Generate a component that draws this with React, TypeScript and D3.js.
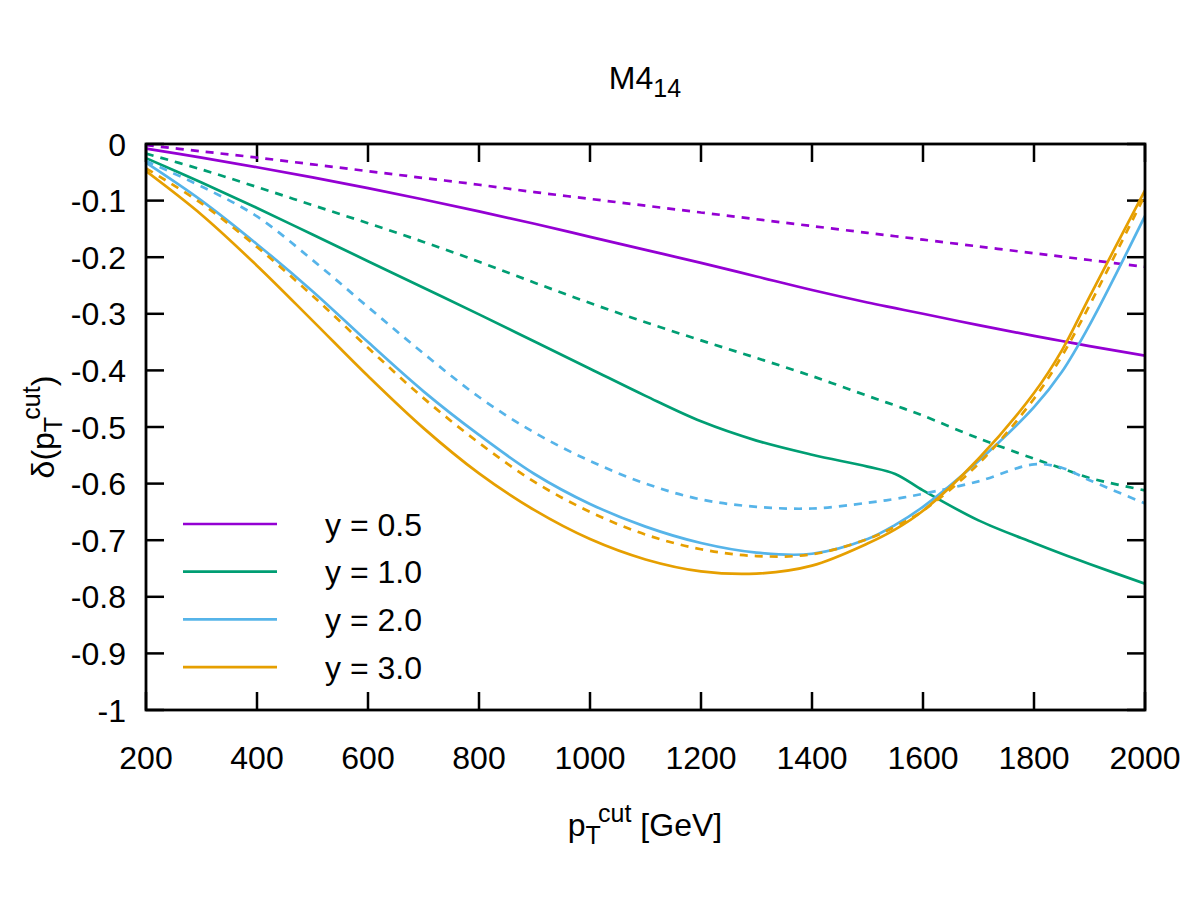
import React from 'react';
import * as d3 from 'd3';

const pT = [200, 300, 400, 500, 600, 700, 800, 900, 1000, 1100, 1200, 1300, 1400, 1500, 1550, 1600, 1700, 1800, 1850, 1900, 2000];

const y05Solid = [-0.008, -0.024, -0.041, -0.059, -0.078, -0.098, -0.119, -0.141, -0.164, -0.187, -0.21, -0.234, -0.258, -0.28, -0.29, -0.3, -0.32, -0.339, -0.348, -0.357, -0.374];
const y05Dashed = [-0.002, -0.013, -0.024, -0.036, -0.048, -0.06, -0.072, -0.085, -0.097, -0.109, -0.121, -0.133, -0.145, -0.157, -0.163, -0.169, -0.181, -0.193, -0.199, -0.205, -0.217];
const y10Solid = [-0.025, -0.068, -0.113, -0.16, -0.207, -0.254, -0.301, -0.349, -0.397, -0.445, -0.49, -0.524, -0.549, -0.57, -0.583, -0.612, -0.665, -0.705, -0.724, -0.742, -0.777];
const y10Dashed = [-0.017, -0.045, -0.076, -0.108, -0.14, -0.173, -0.208, -0.245, -0.281, -0.315, -0.347, -0.378, -0.41, -0.445, -0.462, -0.48, -0.52, -0.556, -0.573, -0.59, -0.612];
const y20Solid = [-0.033, -0.1, -0.177, -0.26, -0.35, -0.437, -0.514, -0.583, -0.636, -0.676, -0.705, -0.722, -0.724, -0.698, -0.673, -0.641, -0.56, -0.465, -0.403, -0.32, -0.127];
const y20Dashed = [-0.03, -0.075, -0.128, -0.205, -0.288, -0.37, -0.447, -0.51, -0.56, -0.6, -0.628, -0.641, -0.644, -0.634, -0.627, -0.618, -0.596, -0.566, -0.572, -0.594, -0.635];
const y30Solid = [-0.048, -0.125, -0.215, -0.312, -0.41, -0.502, -0.582, -0.647, -0.698, -0.734, -0.755, -0.759, -0.745, -0.706, -0.681, -0.648, -0.556, -0.44, -0.365, -0.27, -0.082];
const y30Dashed = [-0.043, -0.105, -0.182, -0.268, -0.36, -0.449, -0.528, -0.597, -0.65, -0.69, -0.716, -0.728, -0.725, -0.698, -0.676, -0.648, -0.565, -0.45, -0.375, -0.285, -0.09];

const legendLabels = ['y = 0.5', 'y = 1.0', 'y = 2.0', 'y = 3.0'];
const colors = ['#9400d3', '#009e73', '#56b4e9', '#e69f00'];
const solidSeries = [y05Solid, y10Solid, y20Solid, y30Solid];
const dashedSeries = [y05Dashed, y10Dashed, y20Dashed, y30Dashed];

const xTicks = [200, 400, 600, 800, 1000, 1200, 1400, 1600, 1800, 2000];
const yTicks = [0, -0.1, -0.2, -0.3, -0.4, -0.5, -0.6, -0.7, -0.8, -0.9, -1];

const W = 1200, H = 900;
const L = 146, R = 1145, T = 144, B = 710;
const FONT = "'Liberation Sans', Arial, Helvetica, sans-serif";
const FS = 32;
const SFS = 25;
const TICK = 18;

export default function App() {
  const x = d3.scaleLinear().domain([200, 2000]).range([L, R]);
  const y = d3.scaleLinear().domain([-1, 0]).range([B, T]);
  const line = d3.line<number>()
    .x((_, i) => x(pT[i]))
    .y((d) => y(d))
    .curve(d3.curveCatmullRom.alpha(0.5));

  const fmtY = (v: number) => (v === 0 ? '0' : v === -1 ? '-1' : v.toFixed(1));

  return (
    <svg width={W} height={H} style={{ position: 'absolute', left: 0, top: 0, background: '#fff' }} fontFamily={FONT}>
      <rect x={0} y={0} width={W} height={H} fill="#fff" />
      <defs>
        <clipPath id="plotclip">
          <rect x={L} y={T} width={R - L} height={B - T} />
        </clipPath>
      </defs>
      {xTicks.map((t) => (
        <g key={'x' + t}>
          <line x1={x(t)} x2={x(t)} y1={B} y2={B - TICK} stroke="#000" strokeWidth={2.5} />
          <line x1={x(t)} x2={x(t)} y1={T} y2={T + TICK} stroke="#000" strokeWidth={2.5} />
          <text x={x(t)} y={769} fontSize={FS} textAnchor="middle" fill="#000">{t}</text>
        </g>
      ))}
      {yTicks.map((t) => (
        <g key={'y' + t}>
          <line x1={L} x2={L + TICK} y1={y(t)} y2={y(t)} stroke="#000" strokeWidth={2.5} />
          <line x1={R} x2={R - TICK} y1={y(t)} y2={y(t)} stroke="#000" strokeWidth={2.5} />
          <text x={126} y={y(t)} dy="0.36em" fontSize={FS} textAnchor="end" fill="#000">{fmtY(t)}</text>
        </g>
      ))}
      <g clipPath="url(#plotclip)">
        {solidSeries.map((s, i) => (
          <g key={'s' + i}>
            <path d={line(s) || ''} fill="none" stroke={colors[i]} strokeWidth={2.7} />
            <path d={line(dashedSeries[i]) || ''} fill="none" stroke={colors[i]} strokeWidth={2.7} strokeDasharray="8,7" />
          </g>
        ))}
      </g>
      <rect x={L} y={T} width={R - L} height={B - T} fill="none" stroke="#000" strokeWidth={2.8} />
      {legendLabels.map((lab, i) => {
        const ly = 524 + i * 47.7;
        return (
          <g key={'l' + i}>
            <line x1={183} x2={277} y1={ly} y2={ly} stroke={colors[i]} strokeWidth={2.7} />
            <text x={325} y={ly} dy="0.36em" fontSize={FS} fill="#000">{lab}</text>
          </g>
        );
      })}
      <text x={645} y={89} fontSize={FS} textAnchor="middle" fill="#000">
        M4<tspan fontSize={SFS} dy={8}>14</tspan>
      </text>
      <text x={645} y={836} fontSize={FS} textAnchor="middle" fill="#000">
        p<tspan fontSize={SFS} dy={8}>T</tspan><tspan fontSize={SFS} dy={-22}>cut</tspan><tspan dy={14}> [GeV]</tspan>
      </text>
      <text transform={`translate(54,427) rotate(-90)`} fontSize={FS} textAnchor="middle" fill="#000">
        δ(p<tspan fontSize={SFS} dy={8}>T</tspan><tspan fontSize={SFS} dy={-22}>cut</tspan><tspan dy={14}>)</tspan>
      </text>
    </svg>
  );
}
